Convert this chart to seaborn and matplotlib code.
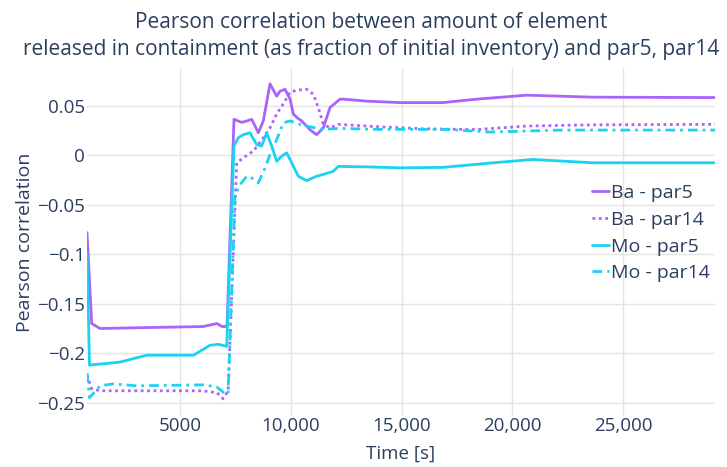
import numpy as np
import pandas as pd
import matplotlib
matplotlib.use("Agg")
import matplotlib.pyplot as plt
import seaborn as sns

# ---------------- data ----------------
ba_par5_t = [786, 998, 1373, 3630, 6025, 6660, 6880, 7110, 7425, 7773, 7999, 8225,
             8523, 8749, 9052, 9354, 9503, 9729, 9955, 10104, 10285, 10483, 10858,
             11161, 11459, 11762, 12214, 12349, 13419, 14923, 16865, 18388, 20646,
             23640, 29150]
ba_par5_v = [-0.078, -0.170, -0.175, -0.174, -0.173, -0.170, -0.173, -0.173, 0.0366,
             0.0335, 0.0349, 0.0366, 0.023, 0.035, 0.0725, 0.060, 0.065, 0.067, 0.057,
             0.042, 0.038, 0.035, 0.026, 0.021, 0.028, 0.0485, 0.057, 0.057, 0.055,
             0.0535, 0.0535, 0.057, 0.061, 0.059, 0.0586]

ba_par14_t = [786, 998, 1373, 6025, 6660, 6929, 7160, 7547, 7845, 8297, 8749, 9052,
              9354, 9729, 9955, 10257, 10709, 11007, 11233, 11459, 11762, 12137,
              14000, 16000, 18388, 20646, 23640, 29150]
ba_par14_v = [-0.222, -0.236, -0.238, -0.238, -0.240, -0.246, -0.238, -0.0074, -0.0024,
              0.0044, 0.018, 0.028, 0.042, 0.055, 0.064, 0.066, 0.067, 0.062, 0.0485,
              0.0315, 0.028, 0.0315, 0.029, 0.027, 0.0262, 0.0298, 0.031, 0.0315]

mo_par5_t = [786, 900, 1373, 2280, 3480, 5590, 6340, 6715, 7095, 7425, 7620, 7845,
             8148, 8450, 8676, 8902, 9128, 9354, 9580, 9805, 10031, 10330, 10709,
             11161, 11536, 11912, 12137, 13419, 14923, 16865, 19125, 20932, 23640, 29150]
mo_par5_v = [-0.099, -0.212, -0.211, -0.209, -0.202, -0.202, -0.192, -0.191, -0.193,
             0.0095, 0.018, 0.021, 0.023, 0.011, 0.0095, 0.023, 0.0095, -0.0058, -0.0007,
             0.0027, -0.0074, -0.021, -0.0254, -0.021, -0.0186, -0.016, -0.011, -0.0115,
             -0.0125, -0.012, -0.0074, -0.004, -0.0074, -0.0074]

mo_par14_t = [786, 900, 1373, 1960, 3030, 6025, 6640, 7020, 7160, 7470, 7700, 7999,
              8225, 8523, 8830, 9052, 9354, 9654, 9955, 10407, 10858, 11459, 12137,
              14000, 17000, 19000, 22150, 29150]
mo_par14_v = [-0.220, -0.245, -0.233, -0.231, -0.233, -0.232, -0.234, -0.241, -0.241,
              -0.0396, -0.0295, -0.021, -0.0227, -0.0277, -0.0125, 0.001, 0.016, 0.033,
              0.035, 0.0315, 0.029, 0.0264, 0.0274, 0.0264, 0.0264, 0.0237, 0.0257, 0.0257]

series_names = ["Ba - par5", "Ba - par14", "Mo - par5", "Mo - par14"]
x_ticks = [5000, 10000, 15000, 20000, 25000]
x_tick_labels = ["5000", "10,000", "15,000", "20,000", "25,000"]
y_ticks = [-0.25, -0.2, -0.15, -0.1, -0.05, 0, 0.05]
y_tick_labels = ["\u22120.25", "\u22120.2", "\u22120.15", "\u22120.1", "\u22120.05", "0", "0.05"]

# ---------------- build table ----------------
frames = []
for name, t, v in zip(series_names,
                      [ba_par5_t, ba_par14_t, mo_par5_t, mo_par14_t],
                      [ba_par5_v, ba_par14_v, mo_par5_v, mo_par14_v]):
    frames.append(pd.DataFrame({"time": t, "corr": v, "series": name}))
df = pd.concat(frames, ignore_index=True)

# ---------------- style ----------------
sns.set_theme(style="white")
plt.rcParams['font.family'] = ['Open Sans', 'DejaVu Sans']
text_color = "#2a3f5f"
grid_color = "#E4E4E4"
purple = "#AB63FA"
cyan = "#19D3F3"

fig = plt.figure(figsize=(7.27, 4.67), dpi=100)
ax = fig.add_axes([87/727, 1 - 416/467, (715-87)/727, (416-68)/467])

palette = {"Ba - par5": purple, "Ba - par14": purple, "Mo - par5": cyan, "Mo - par14": cyan}
dashes = {"Ba - par5": "", "Ba - par14": (1.0, 1.3), "Mo - par5": "", "Mo - par14": (3.5, 1.8, 1.0, 1.8)}

sns.lineplot(data=df, x="time", y="corr", hue="series", style="series",
             hue_order=series_names, style_order=series_names,
             palette=palette, dashes=dashes, estimator=None, sort=False,
             linewidth=2.0, ax=ax)

ax.set_xlim(786, 29150)
ax.set_ylim(-0.2635, 0.0885)

ax.set_xticks(x_ticks)
ax.set_xticklabels(x_tick_labels)
ax.set_yticks(y_ticks)
ax.set_yticklabels(y_tick_labels)
ax.tick_params(axis="both", length=0, labelsize=13.5, colors=text_color)
ax.tick_params(axis="x", pad=1.0)
ax.tick_params(axis="y", pad=1.5)

ax.grid(True, color=grid_color, linewidth=1.0)
ax.set_axisbelow(True)
for s in ax.spines.values():
    s.set_visible(False)

ax.set_xlabel("Time [s]", fontsize=13.5, color=text_color, labelpad=7.0)
ax.set_ylabel("Pearson correlation", fontsize=14, color=text_color, labelpad=2)

fig.text(0.51, 0.974,
         "Pearson correlation between amount of element\n"
         "released in containment (as fraction of initial inventory) and par5, par14",
         ha="center", va="top", fontsize=15, color=text_color, linespacing=1.37)

handles, labels = ax.get_legend_handles_labels()
ax.legend(handles, labels, loc="upper left", bbox_to_anchor=(592/727, 1 - 184/467),
          bbox_transform=fig.transFigure, frameon=False, fontsize=14,
          labelcolor=text_color, handlelength=0.85, handletextpad=0.12,
          labelspacing=0.45, borderaxespad=0, borderpad=0)

fig.savefig("out.png", dpi=100)
